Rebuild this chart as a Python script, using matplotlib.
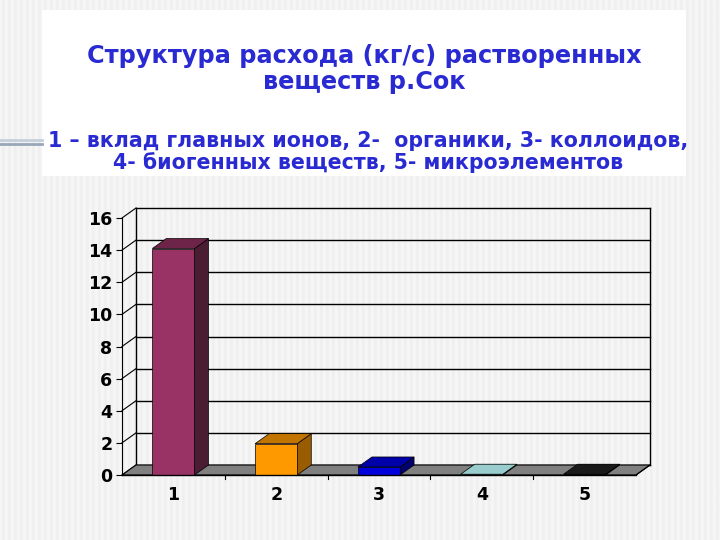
import numpy as np
import matplotlib.pyplot as plt
from matplotlib.patches import Polygon, Rectangle

# data
categories = [1, 2, 3, 4, 5]
values = [14.1, 1.95, 0.5, 0.05, 0.05]
front_colors = ["#993366", "#ff9900", "#0000dd", "#99cccc", "#222222"]
side_colors = ["#4a1d33", "#9a5c00", "#00006e", "#5a8a8a", "#111111"]
top_colors = ["#6e2448", "#c27400", "#0000a8", "#99cccc", "#1a1a1a"]
y_ticks = [0, 2, 4, 6, 8, 10, 12, 14, 16]

title = "Структура расхода (кг/с) растворенных\nвеществ р.Сок"
subtitle = ("1 – вклад главных ионов, 2-  органики, 3- коллоидов,\n"
            "4- биогенных веществ, 5- микроэлементов")

W, H = 720, 540
fig = plt.figure(figsize=(W / 100, H / 100), dpi=100)

# striped slide background
bg = fig.add_axes([0, 0, 1, 1])
stripes = np.tile(np.array([0.965, 0.96, 0.945, 0.935, 0.945, 0.96]), W // 6)
bg.imshow(stripes[None, :], cmap="gray", vmin=0, vmax=1, aspect="auto",
          extent=[0, W, H, 0], interpolation="bilinear")
bg.set_xlim(0, W)
bg.set_ylim(H, 0)
bg.axis("off")

# white title box and left decoration line
bg.add_patch(Rectangle((42, 10), 644, 166, facecolor="white", edgecolor="none"))
bg.plot([0, 42], [139.5, 139.5], color="#c4cfd9", lw=2)
bg.plot([0, 42], [143.5, 143.5], color="#98a8b8", lw=2)

blue = "#2a2ad2"
bg.text(364, 69, title, ha="center", va="center", color=blue,
        fontsize=17.3, fontweight="bold", linespacing=1.15)
bg.text(368, 152, subtitle, ha="center", va="center", color=blue,
        fontsize=14.8, fontweight="bold", linespacing=1.08)

# front plane of the chart in pixel coords: x 122..636, y 475 (0) .. 218 (16)
ax = fig.add_axes([122 / W, (H - 475) / H, 514 / W, 257 / H])
ax.set_xlim(0.5, 5.5)
ax.set_ylim(0, 16)
ax.patch.set_alpha(0)
for s in ax.spines.values():
    s.set_visible(False)

dx = 14 / (514 / 5)      # depth offset in category units
dy = 10 / (257 / 16)     # depth offset in value units
x0, x1 = 0.5, 5.5

# back wall grid
for v in y_ticks:
    ax.plot([x0 + dx, x1 + dx], [v + dy, v + dy], color="black", lw=1.0,
            clip_on=False, zorder=1)
    ax.plot([x0, x0 + dx], [v, v + dy], color="black", lw=0.8, clip_on=False, zorder=1)
ax.plot([x0 + dx, x0 + dx], [dy, 16 + dy], color="black", lw=1.0, clip_on=False, zorder=1)
ax.plot([x1 + dx, x1 + dx], [dy, 16 + dy], color="black", lw=1.0, clip_on=False, zorder=1)
ax.plot([x0, x0], [0, 16], color="black", lw=0.8, clip_on=False, zorder=1)

# floor
ax.add_patch(Polygon([(x0, 0), (x1, 0), (x1 + dx, dy), (x0 + dx, dy)], closed=True,
                     facecolor="#808080", edgecolor="black", lw=0.8,
                     clip_on=False, zorder=2))

# 3d bars
bw = 0.41
for c, v, fc, sc, tc in zip(categories, values, front_colors, side_colors, top_colors):
    l, r = c - bw / 2, c + bw / 2
    ax.add_patch(Polygon([(r, 0), (r + dx, dy), (r + dx, v + dy), (r, v)], closed=True,
                         facecolor=sc, edgecolor="black", lw=0.5, clip_on=False, zorder=3))
    ax.add_patch(Polygon([(l, v), (r, v), (r + dx, v + dy), (l + dx, v + dy)], closed=True,
                         facecolor=tc, edgecolor="black", lw=0.5, clip_on=False, zorder=3))
    ax.add_patch(Rectangle((l, 0), bw, v, facecolor=fc, edgecolor="black", lw=0.5,
                           clip_on=False, zorder=4))

# front axis line and ticks
ax.plot([x0, x1], [0, 0], color="black", lw=1.0, clip_on=False, zorder=5)
for t in np.arange(1.5, 5.5, 1.0):
    ax.plot([t, t], [0, -0.25], color="black", lw=0.8, clip_on=False, zorder=5)
ax.plot([x1 + dx, x1], [dy, 0], color="black", lw=0.8, clip_on=False, zorder=5)

ax.set_yticks(y_ticks)
ax.set_yticklabels([str(v) for v in y_ticks], fontsize=12.5, fontweight="bold")
ax.set_xticks(categories)
ax.set_xticklabels([str(c) for c in categories], fontsize=12.5, fontweight="bold")
ax.tick_params(axis="y", length=4, width=0.8, pad=3)
ax.tick_params(axis="x", length=0, pad=8)

fig.savefig("out.png", dpi=100)
